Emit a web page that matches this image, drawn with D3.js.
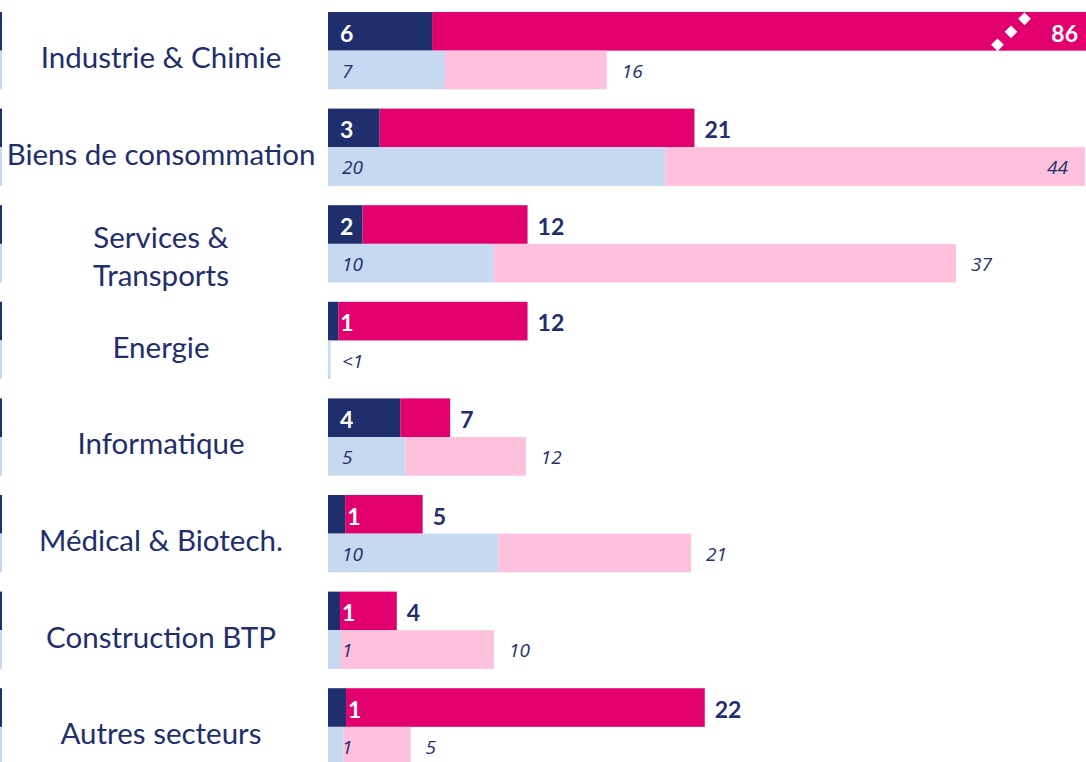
<!DOCTYPE html>
<html><head><meta charset="utf-8">
<script src="https://cdn.jsdelivr.net/npm/d3@7"></script>
<style>html,body{margin:0;padding:0;background:#fff;overflow:hidden}</style>
</head><body><svg id="c" width="1086" height="762"></svg>
<script>
const categories = [["Industrie & Chimie"],["Biens de consommation"],["Services &","Transports"],["Energie"],["Informatique"],["Médical & Biotech."],["Construction BTP"],["Autres secteurs"]];
// top row: dark segment and total (dark + magenta)
const darkValues   = [6.05, 3.0, 2.0, 0.6, 4.2, 1.0, 0.7, 1.05];
const topTotals    = [86, 21.3, 11.6, 11.6, 7.1, 5.5, 4.0, 21.9];
const darkLabels   = ["6","3","2","1","4","1","1","1"];
const topLabels    = ["86","21","12","12","7","5","4","22"];
// bottom row: light-blue segment and total (light blue + pink)
const lightValues  = [6.8, 19.6, 9.6, 0.15, 4.5, 9.9, 0.75, 0.9];
const bottomTotals = [16.2, 44, 36.5, 0.15, 11.5, 21.1, 9.65, 4.8];
const lightLabels  = ["7","20","10","<1","5","10","1","1"];
const bottomLabels = ["16","44","37","","12","21","10","5"];

const W = 1086, H = 762;
const C = {navy:"#1f2e6c", magenta:"#e2006f", light:"#c6d9f0", pink:"#fdc1de"};
const FONT = "Lato, 'Open Sans', sans-serif";
const NFONT = "'Open Sans', Lato, sans-serif";
const svg = d3.select("#c");
const x = d3.scaleLinear().domain([0, 44]).range([328, 1085]);
const y = d3.scaleBand().domain(d3.range(categories.length)).range([12, 765.5]).paddingInner(0.2).paddingOuter(0);
const rowH = y.bandwidth()/2;
const xe = v => Math.min(x(v), W);

const g = svg.selectAll("g.cat").data(categories).join("g").attr("class","cat");

g.each(function(lines, i){
  const gg = d3.select(this);
  const y0 = y(i), y1 = y(i) + rowH;
  // left edge strips
  gg.append("rect").attr("x",0).attr("y",y0).attr("width",2).attr("height",rowH).attr("fill",C.navy);
  gg.append("rect").attr("x",0).attr("y",y1).attr("width",2).attr("height",rowH).attr("fill",C.light);
  // category label
  const n = lines.length;
  const cy = y0 + y.bandwidth()/2 + (n > 1 ? 13 : 7);
  const t = gg.append("text").attr("x",161).attr("text-anchor","middle")
    .attr("font-family",FONT).attr("font-size",29.5).attr("fill",C.navy);
  lines.forEach((l,k)=>{
    t.append("tspan").attr("x",161).attr("y", cy + (k - (n-1)/2)*38).attr("dy","0.35em").text(l);
  });
  // top row bars
  gg.append("rect").attr("x",x(darkValues[i])).attr("y",y0).attr("width",xe(topTotals[i])-x(darkValues[i])).attr("height",rowH).attr("fill",C.magenta);
  gg.append("rect").attr("x",x(0)).attr("y",y0).attr("width",x(darkValues[i])-x(0)).attr("height",rowH).attr("fill",C.navy);
  // bottom row bars
  gg.append("rect").attr("x",x(lightValues[i])).attr("y",y1).attr("width",xe(bottomTotals[i])-x(lightValues[i])).attr("height",rowH).attr("fill",C.pink);
  gg.append("rect").attr("x",x(0)).attr("y",y1).attr("width",Math.max(2,x(lightValues[i])-x(0))).attr("height",rowH).attr("fill",C.light);

  // dark segment label
  const dw = x(darkValues[i]) - x(0);
  const dx = dw > 25 ? x(0) + 12 : x(darkValues[i]) + 2;
  gg.append("text").attr("x",dx).attr("y",y0+rowH/2+2).attr("dy","0.36em")
    .attr("font-family",FONT).attr("font-weight","bold").attr("font-size",23).attr("fill","#fff").text(darkLabels[i]);
  // top total label
  const clippedTop = x(topTotals[i]) > W;
  gg.append("text").attr("x", clippedTop ? W-8 : x(topTotals[i]) + 10).attr("y",y0+rowH/2+2).attr("dy","0.36em")
    .attr("text-anchor", clippedTop ? "end" : "start")
    .attr("font-family",FONT).attr("font-weight","bold").attr("font-size",23).attr("fill", clippedTop ? "#fff" : C.navy).text(topLabels[i]);
  if (clippedTop) {
    const bx = 1011, by = y0 + rowH/2 + 0.5;
    [-1,0,1].forEach(k=>{
      gg.append("rect").attr("x",-4.5).attr("y",-4.5).attr("width",9).attr("height",9).attr("fill","#fff")
        .attr("transform",`translate(${bx + k*13.5},${by - k*13})rotate(45)`);
    });
  }
  // light segment label
  gg.append("text").attr("x",x(0)+14).attr("y",y1+rowH/2+1).attr("dy","0.36em")
    .attr("font-family",NFONT).attr("font-style","italic").attr("font-size",19).attr("fill",C.navy).text(lightLabels[i]);
  // bottom total label
  const inside = x(bottomTotals[i]) + 40 > W;
  gg.append("text").attr("x", inside ? x(bottomTotals[i]) - 17 : x(bottomTotals[i]) + 15).attr("y",y1+rowH/2+1).attr("dy","0.36em")
    .attr("text-anchor", inside ? "end" : "start")
    .attr("font-family",NFONT).attr("font-style","italic").attr("font-size",19).attr("fill",C.navy).text(bottomLabels[i]);
});
</script></body></html>
